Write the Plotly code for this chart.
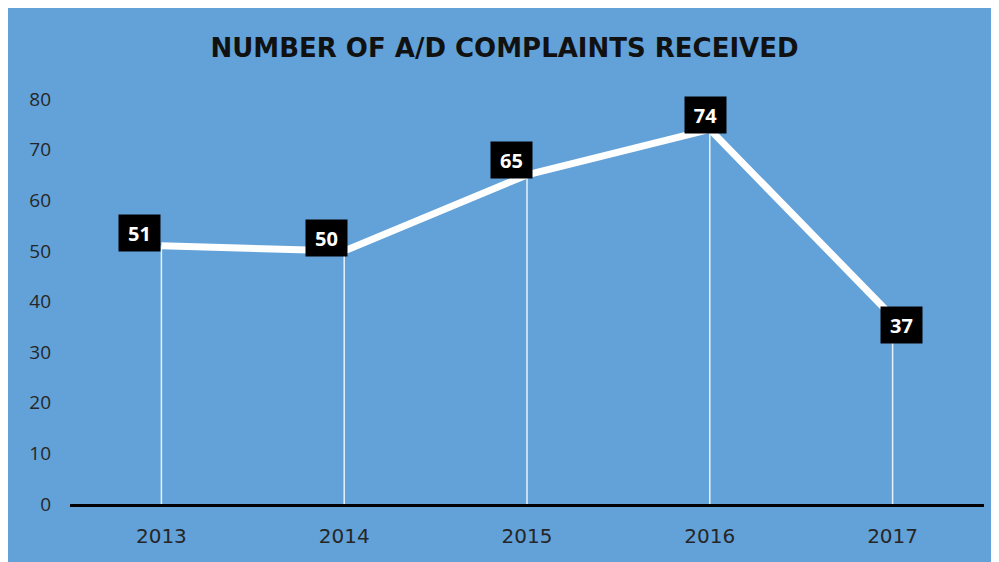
import plotly.graph_objects as go

years = ["2013", "2014", "2015", "2016", "2017"]
complaints = [51, 50, 65, 74, 37]
y_ticks = [0, 10, 20, 30, 40, 50, 60, 70, 80]
title_text = "NUMBER OF A/D COMPLAINTS RECEIVED"

BLUE = "#62A2D8"
label_shift_x = [-22, -18, -16, -4, 9]
label_shift_y = [13, 13, 15, 14, -8]

fig = go.Figure()

# drop lines (vertical from each point to the axis)
fig.add_trace(go.Scatter(
    x=years, y=complaints, mode="markers",
    marker=dict(size=0.1, color="rgba(0,0,0,0)"),
    error_y=dict(type="data", symmetric=False,
                 array=[0] * len(complaints), arrayminus=complaints,
                 color="rgba(255,255,255,0.85)", thickness=1.5, width=0),
    hoverinfo="skip", showlegend=False,
))

fig.add_trace(go.Scatter(
    x=years, y=complaints, mode="lines",
    line=dict(color="white", width=7),
    showlegend=False,
))

for i, v in enumerate(complaints):
    fig.add_annotation(
        x=i, y=v, xref="x", yref="y", text=f"<b>{v}</b>", showarrow=False,
        font=dict(family="Open Sans", size=20, color="white"),
        bgcolor="black", width=37, height=32, borderpad=2,
        xshift=label_shift_x[i], yshift=label_shift_y[i],
    )

fig.update_layout(
    width=993, height=562,
    margin=dict(l=62, r=17, t=91, b=66),
    paper_bgcolor=BLUE, plot_bgcolor=BLUE,
    title=dict(text=f"<b>{title_text}</b>", x=0.5, xanchor="center",
               y=1 - 40 / 562, yanchor="middle",
               font=dict(family="DejaVu Sans", size=26, color="#111111")),
    xaxis=dict(type="category", range=[-0.5, 4.5], showgrid=False,
               showline=True, linecolor="black", linewidth=2.5,
               ticks="", ticklabelstandoff=12,
               tickfont=dict(family="DejaVu Sans", size=20, color="#262626")),
    yaxis=dict(range=[0, 80], tickvals=y_ticks, showgrid=False,
               zeroline=False, showline=False, ticks="",
               ticklabelstandoff=18,
               tickfont=dict(family="Open Sans", size=19, color="#262626")),
)

fig.write_html("out.html", post_script="document.body.style.overflow='hidden';")
